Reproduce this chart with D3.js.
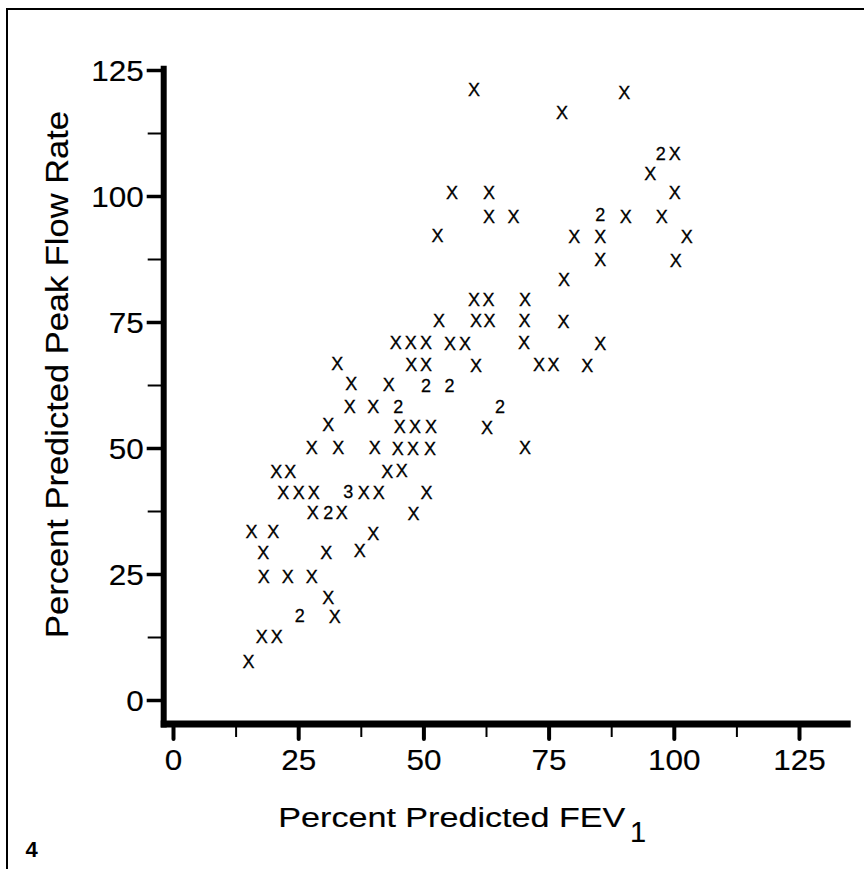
<!DOCTYPE html>
<html>
<head>
<meta charset="utf-8">
<script src="https://cdn.jsdelivr.net/npm/d3@7"></script>
<style>
  html, body { margin: 0; padding: 0; background: #fff; }
  svg { display: block; }
  text { font-family: "Liberation Sans", Arial, Helvetica, sans-serif; fill: #000; }
</style>
</head>
<body>
<svg id="chart" width="864" height="869"></svg>
<script>
// ---- data ----
const fev1 = [60.1, 90.1, 77.7, 97.4, 100.2, 95.3, 55.7, 63.1, 100.2, 63.1,
  68.0, 85.3, 90.4, 97.6, 52.8, 80.1, 85.3, 102.6, 85.3, 100.4,
  78.1, 60.1, 63.0, 70.3, 53.1, 60.5, 63.2, 70.2, 78.0, 44.5,
  47.5, 50.5, 55.3, 58.3, 70.1, 85.3, 32.8, 47.6, 50.5, 60.5,
  73.1, 76.0, 82.7, 35.6, 43.1, 50.5, 55.2, 35.3, 40.0, 45.0,
  65.3, 31.0, 45.3, 48.3, 51.5, 62.7, 27.7, 33.0, 40.3, 44.9,
  47.9, 51.3, 70.3, 20.6, 23.4, 42.8, 45.7, 22.0, 25.1, 28.1,
  35.0, 38.1, 41.1, 50.6, 27.9, 31.0, 33.7, 48.0, 15.7, 20.0,
  40.0, 18.0, 30.6, 37.3, 18.1, 22.9, 27.7, 31.0, 25.3, 32.3,
  17.7, 20.7, 15.1];
const pefr = [121.2, 120.6, 116.5, 108.5, 108.5, 104.4, 100.6, 100.6, 100.6, 95.9,
  95.9, 96.4, 96.0, 95.9, 92.1, 91.9, 91.9, 92.0, 87.3, 87.1,
  83.5, 79.4, 79.4, 79.4, 75.3, 75.2, 75.2, 75.2, 75.1, 70.9,
  70.9, 70.9, 70.8, 70.8, 71.0, 70.8, 66.8, 66.5, 66.5, 66.4,
  66.6, 66.6, 66.4, 62.7, 62.5, 62.3, 62.3, 58.3, 58.3, 58.2,
  58.3, 54.6, 54.2, 54.2, 54.2, 54.1, 50.1, 50.1, 50.1, 49.9,
  49.9, 49.9, 50.0, 45.4, 45.4, 45.4, 45.6, 41.2, 41.2, 41.2,
  41.4, 41.2, 41.2, 41.2, 37.2, 37.2, 37.2, 37.0, 33.5, 33.5,
  33.1, 29.3, 29.3, 29.6, 24.5, 24.5, 24.5, 20.3, 16.8, 16.6,
  12.6, 12.6, 7.7];
// plotting symbol: X = one subject, digit = number of coincident subjects
const symbol = ["X","X","X","2","X","X","X","X","X","X",
  "X","2","X","X","X","X","X","X","X","X",
  "X","X","X","X","X","X","X","X","X","X",
  "X","X","X","X","X","X","X","X","X","X",
  "X","X","X","X","X","2","2","X","X","2",
  "2","X","X","X","X","X","X","X","X","X",
  "X","X","X","X","X","X","X","X","X","X",
  "3","X","X","X","X","2","X","X","X","X",
  "X","X","X","X","X","X","X","X","2","X",
  "X","X","X"];
const majorTicks = [0, 25, 50, 75, 100, 125];
const minorTicks = [12.5, 37.5, 62.5, 87.5, 112.5];
const xTitle = "Percent Predicted FEV";
const xTitleSub = "1";
const yTitle = "Percent Predicted Peak Flow Rate";
const panelLabel = "4";

const points = fev1.map((v, i) => ({x: v, y: pefr[i], s: symbol[i]}));

// ---- layout ----
const svg = d3.select("#chart");
const x = d3.scaleLinear().domain([0, 125]).range([173, 799]);
const y = d3.scaleLinear().domain([0, 125]).range([700, 70]);
const yAxisX = 163.7, xAxisY = 724;
const textStroke = 0.15;

// frame
svg.append("path")
  .attr("d", "M7,869 V9 H864")
  .attr("fill", "none").attr("stroke", "#000").attr("stroke-width", 2);

// y axis
const gy = svg.append("g").attr("transform", `translate(${yAxisX},0)`);
gy.call(d3.axisLeft(y).tickValues(majorTicks).tickSize(17).tickPadding(3).tickFormat(d3.format("d")));
gy.select(".domain").remove();
gy.selectAll(".tick line").attr("stroke", "#000").attr("stroke-width", 3.5);
gy.selectAll(".tick text")
  .attr("dy", null).attr("y", 10)
  .style("font-size", "29px")
  .attr("stroke", "#000").attr("stroke-width", textStroke)
  .attr("textLength", d => String(d).length * 17.5)
  .attr("lengthAdjust", "spacingAndGlyphs");
const gyMinor = svg.append("g").attr("transform", `translate(${yAxisX},0)`);
gyMinor.call(d3.axisLeft(y).tickValues(minorTicks).tickSize(16).tickFormat(""));
gyMinor.select(".domain").remove();
gyMinor.selectAll(".tick line").attr("stroke", "#000").attr("stroke-width", 2);

// x axis
const gx = svg.append("g").attr("transform", `translate(0,${xAxisY})`);
gx.call(d3.axisBottom(x).tickValues(majorTicks).tickSize(15).tickFormat(d3.format("d")));
gx.select(".domain").remove();
gx.selectAll(".tick line").attr("stroke", "#000").attr("stroke-width", 4).attr("stroke-linecap", "round");
gx.selectAll(".tick text")
  .attr("dy", null).attr("y", 46)
  .style("font-size", "29px")
  .attr("stroke", "#000").attr("stroke-width", textStroke)
  .attr("textLength", d => String(d).length * 17.5)
  .attr("lengthAdjust", "spacingAndGlyphs");
const gxMinor = svg.append("g").attr("transform", `translate(0,${xAxisY})`);
gxMinor.call(d3.axisBottom(x).tickValues(minorTicks).tickSize(13).tickFormat(""));
gxMinor.select(".domain").remove();
gxMinor.selectAll(".tick line").attr("stroke", "#000").attr("stroke-width", 2);

// thick axis lines
svg.append("line")
  .attr("x1", yAxisX).attr("x2", yAxisX).attr("y1", 65.7).attr("y2", 727.5)
  .attr("stroke", "#000").attr("stroke-width", 6);
svg.append("line")
  .attr("x1", 160.7).attr("x2", 850.7).attr("y1", xAxisY).attr("y2", xAxisY)
  .attr("stroke", "#000").attr("stroke-width", 7);

// points
svg.append("g").selectAll("text").data(points).join("text")
  .attr("x", d => x(d.x)).attr("y", d => y(d.y))
  .attr("dy", "0.36em")
  .attr("text-anchor", "middle")
  .style("font-size", "18px")
  .attr("stroke", "#000").attr("stroke-width", 0.3)
  .text(d => d.s);

// axis titles
svg.append("text")
  .attr("x", 278.3).attr("y", 827.3)
  .style("font-size", "27px")
  .attr("stroke", "#000").attr("stroke-width", textStroke)
  .attr("textLength", 347).attr("lengthAdjust", "spacingAndGlyphs")
  .text(xTitle);
svg.append("text")
  .attr("x", 630).attr("y", 841.7)
  .style("font-size", "29px")
  .attr("stroke", "#000").attr("stroke-width", textStroke)
  .text(xTitleSub);

svg.append("text")
  .attr("transform", "translate(68,374.5) rotate(-90)")
  .attr("text-anchor", "middle")
  .style("font-size", "32px")
  .attr("stroke", "#000").attr("stroke-width", textStroke)
  .attr("textLength", 527).attr("lengthAdjust", "spacingAndGlyphs")
  .text(yTitle);

svg.append("text")
  .attr("x", 25.5).attr("y", 856.7)
  .style("font-size", "22px").style("font-weight", "bold")
  .text(panelLabel);
</script>
</body>
</html>
